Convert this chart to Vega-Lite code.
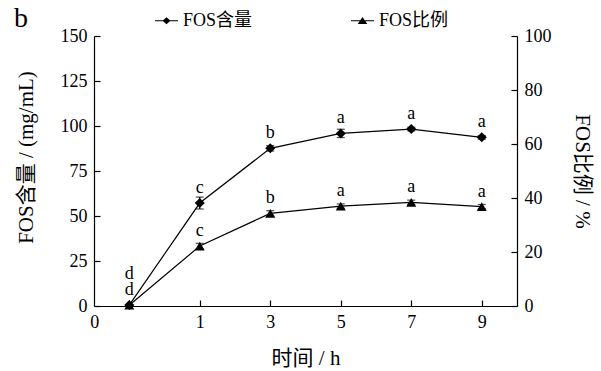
{
  "$schema": "https://vega.github.io/schema/vega-lite/v6.json",
  "width": 423,
  "height": 270,
  "autosize": {"type": "none"},
  "padding": {"left": 94, "top": 36, "right": 84, "bottom": 65},
  "background": "white",
  "config": {
    "view": {"stroke": null},
    "font": "Liberation Serif, Noto Sans CJK SC",
    "axis": {
      "domainColor": "black",
      "domainWidth": 1.2,
      "tickColor": "black",
      "tickWidth": 1.2,
      "labelColor": "black",
      "titleColor": "black",
      "labelFontSize": 18,
      "titleFontSize": 21,
      "titleFontWeight": "normal",
      "grid": false,
      "tickSize": -6,
      "labelPadding": 13,
      "labelFont": "Liberation Serif",
      "titleFont": "Liberation Serif, Noto Sans CJK SC"
    }
  },
  "data": {
    "values": [
      {"time": 0, "content": 0.5, "content_err": 0.3, "content_sig": "d", "ratio": 0.3, "ratio_err": 0.2, "ratio_sig": "d"},
      {"time": 1, "content": 57.2, "content_err": 3.3, "content_sig": "c", "ratio": 22.2, "ratio_err": 1.0, "ratio_sig": "c"},
      {"time": 3, "content": 87.6, "content_err": 1.5, "content_sig": "b", "ratio": 34.3, "ratio_err": 1.0, "ratio_sig": "b"},
      {"time": 5, "content": 95.9, "content_err": 2.3, "content_sig": "a", "ratio": 37.0, "ratio_err": 0.8, "ratio_sig": "a"},
      {"time": 7, "content": 98.3, "content_err": 1.0, "content_sig": "a", "ratio": 38.4, "ratio_err": 0.8, "ratio_sig": "a"},
      {"time": 9, "content": 93.7, "content_err": 1.0, "content_sig": "a", "ratio": 36.8, "ratio_err": 0.8, "ratio_sig": "a"}
    ]
  },
  "encoding": {
    "x": {
      "field": "time",
      "type": "ordinal",
      "scale": {"type": "point", "padding": 0.5},
      "axis": {
        "title": "时间 / h",
        "labelAngle": 0,
        "titlePadding": 16,
        "labelOffset": {"condition": {"test": "datum.value == 0", "value": -35}, "value": 0}
      }
    }
  },
  "layer": [
    {
      "encoding": {
        "y": {
          "field": "content",
          "type": "quantitative",
          "scale": {"domain": [0, 150]},
          "axis": {"orient": "left", "title": "FOS含量 / (mg/mL)", "values": [0, 25, 50, 75, 100, 125, 150], "titleX": -58, "titleY": 121}
        }
      },
      "layer": [
        {"mark": {"type": "line", "color": "black", "strokeWidth": 1.2}},
        {
          "mark": {"type": "errorbar", "color": "black", "ticks": {"size": 8, "thickness": 1.2}, "thickness": 1.2},
          "encoding": {"yError": {"field": "content_err"}}
        },
        {"mark": {"type": "point", "shape": "diamond", "filled": true, "size": 100, "color": "black", "opacity": 1}},
        {
          "transform": [{"filter": "datum.time != 0"}],
          "mark": {"type": "text", "dy": -15, "baseline": "middle", "fontSize": 18, "font": "Liberation Serif", "color": "black"},
          "encoding": {"text": {"field": "content_sig"}}
        },
        {
          "transform": [{"filter": "datum.time == 0"}],
          "mark": {"type": "text", "dy": -31, "baseline": "middle", "fontSize": 18, "font": "Liberation Serif", "color": "black"},
          "encoding": {"text": {"field": "content_sig"}}
        }
      ]
    },
    {
      "encoding": {
        "y": {
          "field": "ratio",
          "type": "quantitative",
          "scale": {"domain": [0, 100]},
          "axis": {"orient": "right", "title": "FOS比例 / %", "values": [0, 20, 40, 60, 80, 100], "titlePadding": 20}
        }
      },
      "layer": [
        {"mark": {"type": "line", "color": "black", "strokeWidth": 1.2}},
        {
          "mark": {"type": "errorbar", "color": "black", "ticks": {"size": 8, "thickness": 1.2}, "thickness": 1.2},
          "encoding": {"yError": {"field": "ratio_err"}}
        },
        {"mark": {"type": "point", "shape": "triangle-up", "filled": true, "size": 100, "color": "black", "opacity": 1}},
        {
          "mark": {"type": "text", "dy": -15, "baseline": "middle", "fontSize": 18, "font": "Liberation Serif", "color": "black"},
          "encoding": {"text": {"field": "ratio_sig"}}
        }
      ]
    },
    {
      "data": {"values": [{"series": "FOS含量"}, {"series": "FOS比例"}]},
      "transform": [{"filter": "datum.series == 'none'"}],
      "mark": {"type": "point", "filled": true, "color": "black", "opacity": 1, "size": 529},
      "encoding": {
        "x": {"value": 0},
        "shape": {
          "field": "series",
          "type": "nominal",
          "scale": {
            "domain": ["FOS含量", "FOS比例"],
            "range": [
              "M-1,-0.05H1V0.05H-1ZM-0.35,0L0,-0.3L0.35,0L0,0.3Z",
              "M-1,-0.05H1V0.05H-1ZM-0.42,0.28L0,-0.32L0.42,0.28Z"
            ]
          },
          "legend": {
            "title": "b",
            "titleOrient": "left",
            "titleFontSize": 28,
            "titleFont": "Liberation Serif",
            "titleFontWeight": "normal",
            "titleColor": "black",
            "titleBaseline": "middle",
            "titlePadding": 126,
            "orient": "none",
            "direction": "horizontal",
            "legendX": -80,
            "legendY": -28,
            "padding": 0,
            "symbolSize": 529,
            "symbolFillColor": "black",
            "symbolOpacity": 1,
            "labelFontSize": 18,
            "labelFont": "Liberation Serif, Noto Sans CJK SC",
            "labelColor": "black",
            "labelOffset": 4,
            "columnPadding": 95,
            "labelExpr": "datum.label == 'FOS比例' ? '\u2002' + datum.label : datum.label"
          }
        }
      }
    }
  ],
  "resolve": {"scale": {"y": "independent"}}
}
